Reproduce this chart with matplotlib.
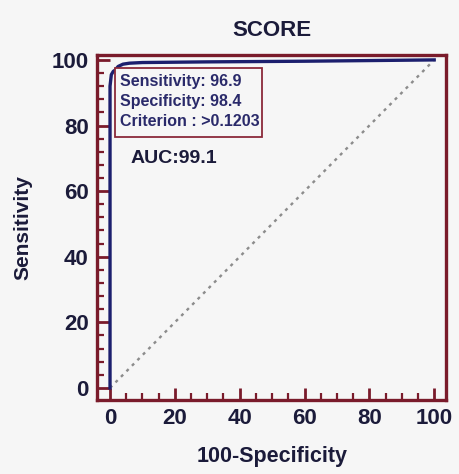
import matplotlib
matplotlib.use("Agg")
import matplotlib.pyplot as plt
from matplotlib.patches import Rectangle
from matplotlib.ticker import MultipleLocator

# ROC curve points (100-Specificity, Sensitivity)
fpr = [0, 0, 0, 0.4, 1.0, 1.6, 2.5, 4, 6, 10, 30, 60, 100]
tpr = [0, 80, 92, 95.5, 96.5, 96.9, 98.0, 98.7, 99.0, 99.2, 99.4, 99.6, 100]

box_lines = ["Sensitivity: 96.9", "Specificity: 98.4", "Criterion : >0.1203"]
auc_txt = "AUC:99.1"
xticks = [0, 20, 40, 60, 80, 100]
yticks = [0, 20, 40, 60, 80, 100]

frame_col = "#7a1b2b"
text_col = "#1b1b3a"
curve_col = "#1c1f6e"
bg = "#f6f6f6"

plt.rcParams["font.family"] = ["Liberation Sans", "DejaVu Sans"]

fig = plt.figure(figsize=(4.6, 4.74), dpi=100, facecolor=bg)
ax = fig.add_axes([0.211, 0.156, 0.759, 0.728], facecolor=bg)

ax.plot([0, 100], [0, 100], color="#8c8c8c", lw=1.7, linestyle=(0, (1.3, 2.0)), zorder=2)
ax.plot(fpr, tpr, color=curve_col, lw=2.4, solid_joinstyle="round", zorder=3)

ax.set_xlim(-4.0, 103.7)
ax.set_ylim(-3.7, 101.5)

ax.xaxis.set_minor_locator(MultipleLocator(5))
ax.yaxis.set_minor_locator(MultipleLocator(4))
ax.set_xticks(xticks)
ax.set_yticks(yticks)

for s in ax.spines.values():
    s.set_color(frame_col)
    s.set_linewidth(2.4)

ax.tick_params(which="major", direction="in", length=9, width=2, color=frame_col,
               labelsize=16, labelcolor=text_col, pad=6)
ax.tick_params(which="minor", direction="in", length=5, width=1.6, color=frame_col)
ax.tick_params(top=False, right=False, which="both")
for lab in ax.get_xticklabels() + ax.get_yticklabels():
    lab.set_fontweight("bold")

ax.set_xlabel("100-Specificity", fontsize=15.5, fontweight="bold", color=text_col, labelpad=12)
ax.set_ylabel("Sensitivity", fontsize=15, fontweight="bold", color=text_col, labelpad=14)
ax.set_title("SCORE", fontsize=16, fontweight="bold", color=text_col, pad=14)

# statistics box at the optimal criterion
ax.add_patch(Rectangle((1.5, 76.5), 45.4, 21.1, facecolor=bg, edgecolor="#8b2a3a",
                       lw=1.3, zorder=4))
for i, line in enumerate(box_lines):
    ax.text(3.0, 93.3 - 6.1 * i, line, fontsize=11.5, fontweight="bold",
            color="#2a2a6a", va="center", ha="left", zorder=5)

ax.text(6.3, 69.8, auc_txt, fontsize=14, fontweight="bold", color=text_col,
        va="center", ha="left", zorder=4)

fig.savefig("out.png", dpi=100, facecolor=bg)
